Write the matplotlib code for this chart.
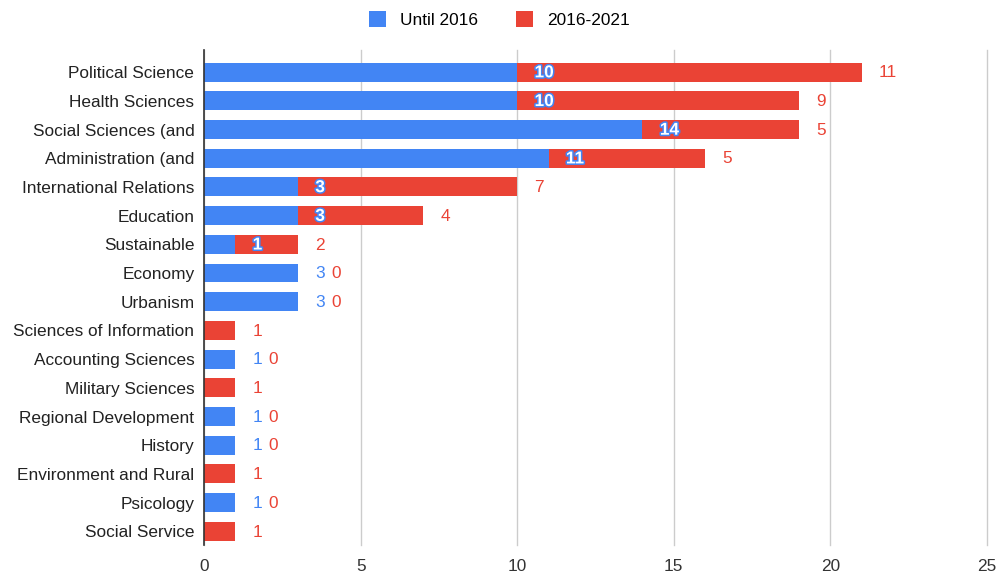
import numpy as np
import matplotlib.pyplot as plt
import matplotlib.patheffects as pe

plt.rcParams['font.family'] = ['Liberation Sans', 'DejaVu Sans']

categories = ['Political Science', 'Health Sciences', 'Social Sciences (and',
              'Administration (and', 'International Relations', 'Education',
              'Sustainable', 'Economy', 'Urbanism', 'Sciences of Information',
              'Accounting Sciences', 'Military Sciences', 'Regional Development',
              'History', 'Environment and Rural', 'Psicology', 'Social Service']
until_2016 = [10, 10, 14, 11, 3, 3, 1, 3, 3, 0, 1, 0, 1, 1, 0, 1, 0]
from_2016 = [11, 9, 5, 5, 7, 4, 2, 0, 0, 1, 0, 1, 0, 0, 1, 0, 1]
series_names = ['Until 2016', '2016-2021']

BLUE = '#4285F4'
RED = '#EA4335'

fig = plt.figure(figsize=(9.99, 5.75), dpi=100)
ax = fig.add_axes([0.2042, 0.052, 0.7838, 0.861])

y = np.arange(len(categories))
a = np.array(until_2016)
b = np.array(from_2016)
ax.barh(y, a, height=0.66, color=BLUE, label=series_names[0], zorder=2)
ax.barh(y, b, left=a, height=0.66, color=RED, label=series_names[1], zorder=2)

fs = 12.4
for i in range(len(categories)):
    if a[i] > 0:
        if b[i] > 0:
            # blue value drawn over the red segment: white with blue outline
            ax.annotate(str(a[i]), (a[i], i), xytext=(12.5, -0.5), textcoords='offset points',
                        va='center', ha='left', fontsize=fs, color='white', fontweight='bold',
                        path_effects=[pe.withStroke(linewidth=2.2, foreground=BLUE)], zorder=4)
            ax.annotate(str(b[i]), (a[i] + b[i], i), xytext=(12.5, -0.5), textcoords='offset points',
                        va='center', ha='left', fontsize=fs, color=RED, zorder=4)
        else:
            ax.annotate(str(a[i]), (a[i], i), xytext=(12.5, -0.5), textcoords='offset points',
                        va='center', ha='left', fontsize=fs, color=BLUE, zorder=4)
            ax.annotate(str(b[i]), (a[i], i), xytext=(24, -0.5), textcoords='offset points',
                        va='center', ha='left', fontsize=fs, color=RED, zorder=4)
    else:
        ax.annotate(str(b[i]), (b[i], i), xytext=(12.5, -0.5), textcoords='offset points',
                    va='center', ha='left', fontsize=fs, color=RED, zorder=4)

ax.set_xlim(0, 25)
ax.set_ylim(16.48, -0.77)
ax.set_xticks([0, 5, 10, 15, 20, 25])
ax.set_yticks(y)
ax.set_yticklabels(categories, fontsize=fs, color='#222222')
ax.tick_params(axis='x', labelsize=fs, colors='#333333', length=0, pad=10)
ax.tick_params(axis='y', length=0, pad=7)
ax.grid(axis='x', color='#cccccc', linewidth=1, zorder=0)
for gl in ax.get_xgridlines():
    gl.set_clip_on(False)
for s in ['top', 'right', 'bottom']:
    ax.spines[s].set_visible(False)
ax.spines['left'].set_color('#333333')
ax.spines['left'].set_linewidth(1.2)
ax.spines['left'].set_zorder(3)

fig.legend(loc='center', bbox_to_anchor=(0.5, 0.966), ncol=2, frameon=False,
           fontsize=fs, handlelength=1.0, handleheight=1.0, columnspacing=2.2,
           handletextpad=0.8)

fig.savefig('out.png', dpi=100)
